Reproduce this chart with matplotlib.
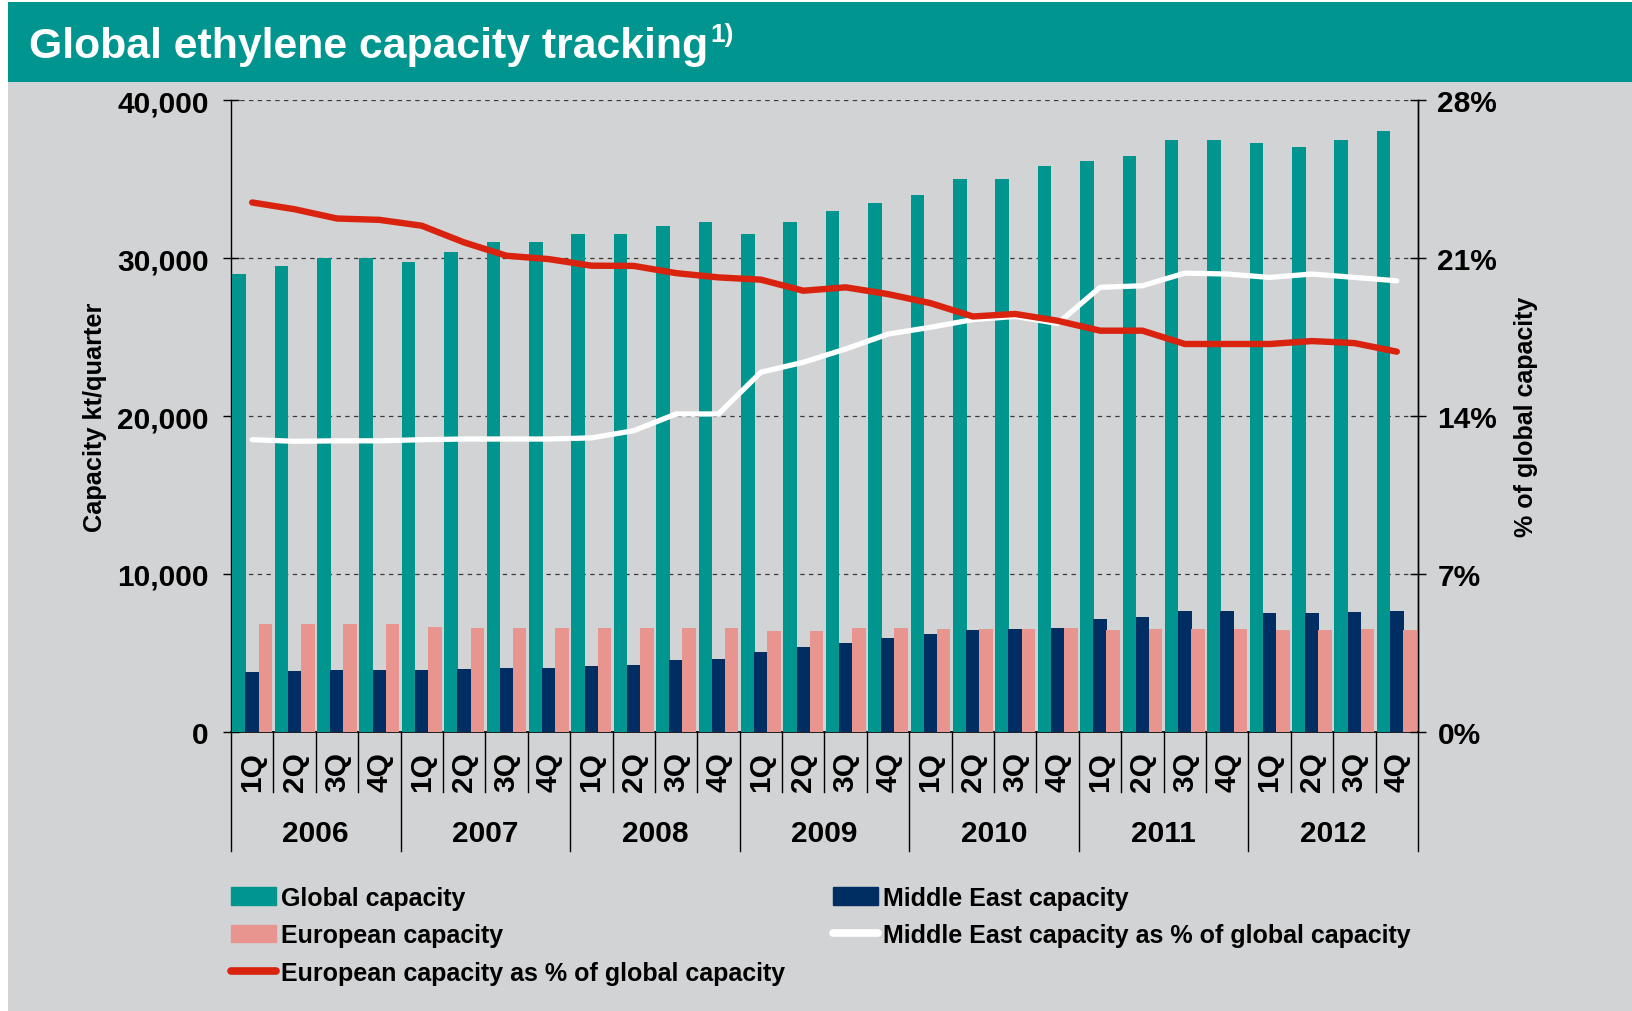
import numpy as np
import matplotlib
matplotlib.use('Agg')
import matplotlib.pyplot as plt
from matplotlib.patches import Rectangle, Patch
from matplotlib.lines import Line2D
from matplotlib.ticker import FuncFormatter

# data
years = ['2006', '2007', '2008', '2009', '2010', '2011', '2012']
quarters = ['1Q', '2Q', '3Q', '4Q']

global_cap = [29000, 29500, 30000, 30000, 29750, 30350, 31000, 31000,
              31500, 31500, 32000, 32300, 31500, 32300, 33000, 33500,
              34000, 35000, 35000, 35800, 36150, 36450, 37500, 37500,
              37250, 37050, 37500, 38050]
me_cap = [3820, 3860, 3940, 3940, 3900, 3990, 4070, 4070,
          4170, 4260, 4560, 4620, 5080, 5360, 5650, 5970,
          6180, 6470, 6540, 6600, 7170, 7280, 7680, 7680,
          7550, 7550, 7610, 7680]
eu_cap = [6850, 6850, 6850, 6850, 6660, 6560, 6560, 6560,
          6560, 6560, 6560, 6560, 6370, 6370, 6560, 6560,
          6520, 6520, 6520, 6560, 6450, 6520, 6520, 6520,
          6450, 6450, 6520, 6450]
eu_share = [23.46, 23.16, 22.75, 22.69, 22.43, 21.69, 21.10, 20.95,
            20.66, 20.65, 20.33, 20.14, 20.04, 19.55, 19.70, 19.40,
            19.00, 18.41, 18.52, 18.22, 17.78, 17.78, 17.19, 17.19,
            17.19, 17.32, 17.23, 16.85]
me_share = [12.95, 12.88, 12.90, 12.90, 12.95, 12.98, 12.98, 12.98,
            13.03, 13.35, 14.09, 14.09, 15.94, 16.38, 16.97, 17.63,
            17.93, 18.27, 18.41, 18.10, 19.70, 19.77, 20.33, 20.29,
            20.14, 20.29, 20.14, 19.99]

teal = '#00968f'
navy = '#002d62'
pink = '#e8948f'
red = '#d9230f'
grey = '#d2d3d5'

plt.rcParams['font.family'] = ['Liberation Sans', 'DejaVu Sans']
plt.rcParams['font.weight'] = 'bold'

fig = plt.figure(figsize=(16.33, 10.12), dpi=100, facecolor='white')
W, H = 1633, 1012

# grey background and teal title banner
fig.patches.append(Rectangle((8 / W, 0), 1 - 8 / W, 1 - 3 / H, transform=fig.transFigure,
                             facecolor=grey, edgecolor='none', zorder=-10))
fig.patches.append(Rectangle((8 / W, 1 - 83 / H), 1 - 8 / W, 80 / H, transform=fig.transFigure,
                             facecolor=teal, edgecolor='none', zorder=-9))
title = fig.text(29 / W, 1 - 58 / H, 'Global ethylene capacity tracking', color='white',
                 fontsize=30.8, fontweight='bold', va='baseline', ha='left')

ax = fig.add_axes([231 / W, 1 - 733 / H, (1418 - 231) / W, (733 - 101) / H])
ax.set_facecolor(grey)
ax.patch.set_alpha(0)

x = np.arange(len(global_cap))
bw = 0.32
ax.bar(x - 0.31, global_cap, bw, color=teal, zorder=3)
ax.bar(x, me_cap, bw, color=navy, zorder=3)
ax.bar(x + 0.31, eu_cap, bw, color=pink, zorder=3)

ax.set_xlim(-0.5, len(x) - 0.5)
ax.set_ylim(0, 40000)
ax.set_yticks([0, 10000, 20000, 30000, 40000])
ax.yaxis.set_major_formatter(FuncFormatter(lambda v, p: f'{int(v):,}'))
ax.yaxis.grid(True, linestyle=(0, (3.5, 3.5)), color='#3a3a3a', linewidth=0.9, zorder=0)
ax.set_axisbelow(True)
ax.set_xticks([])
ax.spines['top'].set_visible(False)
ax.spines['left'].set_linewidth(1)
ax.spines['right'].set_linewidth(1)
ax.spines['bottom'].set_linewidth(1.2)
ax.tick_params(axis='y', direction='inout', length=12, width=1, pad=10, labelsize=21.5)
ax.set_ylabel('Capacity kt/quarter', fontsize=18.3, fontweight='bold', labelpad=7.5)

ax2 = ax.twinx()
ax2.set_ylim(0, 28)
ax2.set_yticks([0, 7, 14, 21, 28])
ax2.yaxis.set_major_formatter(FuncFormatter(lambda v, p: f'{int(v)}%'))
ax2.tick_params(axis='y', direction='inout', length=12, width=1, pad=8, labelsize=21.5)
for s in ['top', 'left', 'bottom']:
    ax2.spines[s].set_visible(False)
ax2.spines['right'].set_linewidth(1)
ax2.set_ylabel('% of global capacity', fontsize=18, fontweight='bold', labelpad=12)
ax2.plot(x, me_share, color='white', linewidth=3.8, solid_joinstyle='round', solid_capstyle='round')
ax2.plot(x, eu_share, color=red, linewidth=4.6, solid_joinstyle='round', solid_capstyle='round')

# category axis: quarter labels, year labels and separators
tr = ax.get_xaxis_transform()
for i in range(len(x)):
    ax.text(i, -0.062, quarters[i % 4], transform=tr, rotation=90, ha='center', va='center',
            fontsize=21.5, fontweight='bold')
for i in range(len(x) + 1):
    low = -0.188 if i % 4 == 0 else -0.095
    ax.plot([i - 0.5, i - 0.5], [0, low], transform=tr, color='black', linewidth=1, clip_on=False)
for k, yr in enumerate(years):
    ax.text(k * 4 + 1.5, -0.16, yr, transform=tr, ha='center', va='center',
            fontsize=21.5, fontweight='bold')

handles = [Patch(color=teal), Patch(color=pink),
           Line2D([], [], color=red, linewidth=5.5, solid_capstyle='round'),
           Patch(color=navy),
           Line2D([], [], color='white', linewidth=5.5, solid_capstyle='round')]
labels = ['Global capacity', 'European capacity', 'European capacity as % of global capacity',
          'Middle East capacity', 'Middle East capacity as % of global capacity']
fig.legend(handles, labels, ncol=2, loc='upper left', bbox_to_anchor=(231 / W, 1 - 887 / H),
           frameon=False, fontsize=18, handlelength=1.8, handleheight=0.72,
           handletextpad=0.2, labelspacing=0.53, columnspacing=1.9, borderpad=0, borderaxespad=0)

# superscript after the title
fig.canvas.draw()
bb = title.get_window_extent()
fig.text(bb.x1 / W + 2 / W, 1 - 42 / H, '1)', color='white', fontsize=19, fontweight='bold',
         va='baseline', ha='left')

fig.savefig('out.png', dpi=100, facecolor='white')
